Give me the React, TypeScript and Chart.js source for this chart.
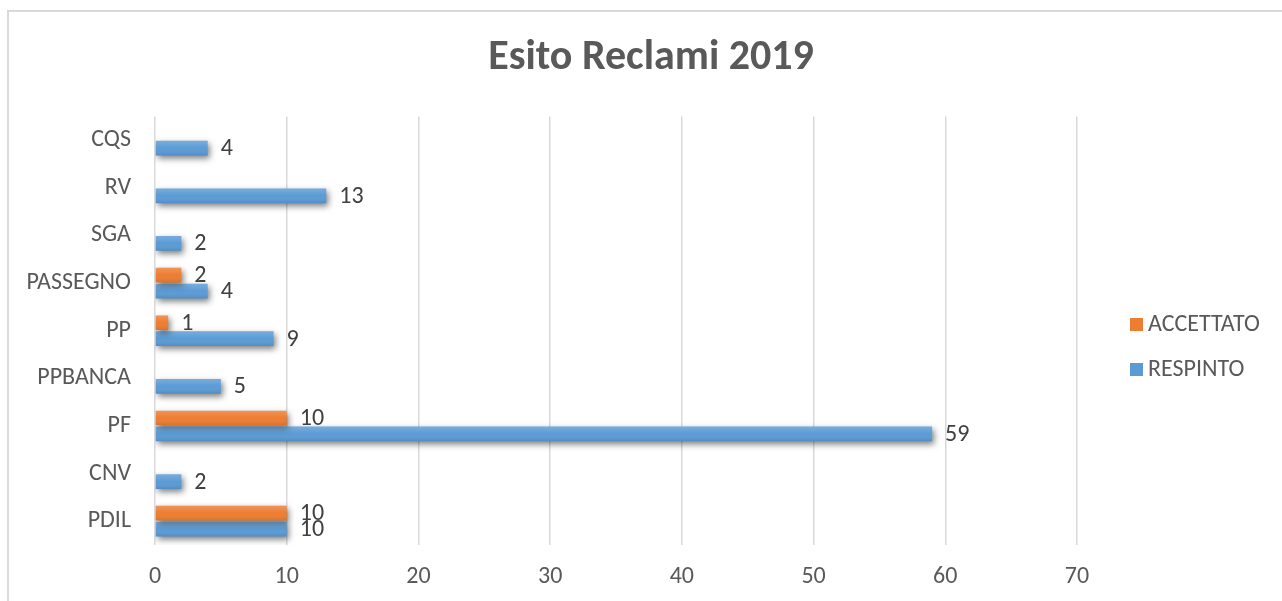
import React, { useEffect, useRef } from 'react';
import { Chart, registerables } from 'chart.js';

Chart.register(...registerables);

const FONT = "Carlito, Lato, 'Open Sans', sans-serif";

const categories = ['CQS', 'RV', 'SGA', 'PASSEGNO', 'PP', 'PPBANCA', 'PF', 'CNV', 'PDIL'];
const seriesNames = ['ACCETTATO', 'RESPINTO'];
const accettato: (number | null)[] = [null, null, null, 2, 1, null, 10, null, 10];
const respinto: (number | null)[] = [4, 13, 2, 4, 9, 5, 59, 2, 10];
const xMin = 0;
const xMax = 70;
const xStep = 10;
const titleText = 'Esito Reclami 2019';

const ORANGE = '#ED7D31';
const BLUE = '#5B9BD5';
const FS = 24;

const barDecor = {
  id: 'barDecor',
  beforeDatasetsDraw(chart: any) {
    const ctx = chart.ctx;
    ctx.save();
    ctx.shadowColor = 'rgba(0,0,0,0.5)';
    ctx.shadowBlur = 6;
    ctx.shadowOffsetX = 2;
    ctx.shadowOffsetY = 3;
  },
  afterDatasetsDraw(chart: any) {
    const ctx = chart.ctx;
    ctx.restore();
    chart.data.datasets.forEach((ds: any, di: number) => {
      const meta = chart.getDatasetMeta(di);
      meta.data.forEach((el: any, i: number) => {
        const v = ds.data[i];
        if (v === null || v === undefined) return;
        const props = el.getProps(['x', 'y', 'base', 'height'], true);
        const top = props.y - props.height / 2;
        const g = ctx.createLinearGradient(0, top, 0, top + props.height);
        g.addColorStop(0, 'rgba(255,255,255,0.18)');
        g.addColorStop(0.5, 'rgba(255,255,255,0)');
        g.addColorStop(1, 'rgba(0,0,0,0.10)');
        ctx.fillStyle = g;
        ctx.fillRect(props.base, top, props.x - props.base, props.height);
        ctx.save();
        ctx.fillStyle = '#404040';
        ctx.font = `${FS}px ${FONT}`;
        ctx.textAlign = 'left';
        ctx.textBaseline = 'middle';
        ctx.fillText(String(v), props.x + 13, props.y + 1);
        ctx.restore();
      });
    });
  },
};

const customLegend = {
  id: 'customLegend',
  afterDraw(chart: any) {
    const ctx = chart.ctx;
    ctx.save();
    ctx.font = `${FS}px ${FONT}`;
    ctx.textAlign = 'left';
    ctx.textBaseline = 'middle';
    chart.data.datasets.forEach((ds: any, i: number) => {
      const cy = 324 + i * 45;
      ctx.fillStyle = ds.backgroundColor;
      ctx.fillRect(1130, cy - 6, 13, 13);
      ctx.fillStyle = '#595959';
      ctx.fillText(ds.label, 1148, cy + 1);
    });
    ctx.restore();
  },
};

export default function App() {
  const ref = useRef<HTMLCanvasElement>(null);
  useEffect(() => {
    const canvas = ref.current!;
    const chart = new Chart(canvas, {
      type: 'bar',
      data: {
        labels: categories,
        datasets: [
          { label: seriesNames[0], data: accettato, backgroundColor: ORANGE, categoryPercentage: 0.67, barPercentage: 0.92 },
          { label: seriesNames[1], data: respinto, backgroundColor: BLUE, categoryPercentage: 0.67, barPercentage: 0.92 },
        ],
      } as any,
      options: {
        indexAxis: 'y',
        responsive: false,
        animation: false,
        layout: { padding: 0 },
        plugins: {
          legend: { display: false },
          tooltip: { enabled: false },
          title: {
            display: true,
            text: titleText,
            color: '#595959',
            font: { size: 42, weight: 'bold', family: FONT, lineHeight: 1.2 },
            padding: { top: 33, bottom: 33 },
          },
        },
        scales: {
          x: {
            min: xMin,
            max: xMax,
            ticks: { stepSize: xStep, color: '#595959', font: { size: FS, family: FONT }, padding: 18 },
            grid: { color: '#d9d9d9', lineWidth: 1.5, drawTicks: false },
            border: { display: false },
            afterFit: (s: any) => { s.height = 56; },
          },
          y: {
            ticks: { color: '#595959', font: { size: FS, family: FONT }, padding: 24 },
            grid: { display: false, drawTicks: false },
            border: { display: false },
            afterFit: (s: any) => { s.width = 155; },
          },
          yRight: {
            type: 'category',
            position: 'right',
            ticks: { display: false },
            grid: { display: false, drawTicks: false },
            border: { display: false },
            afterFit: (s: any) => { s.width = 225; },
          },
        },
      } as any,
      plugins: [barDecor, customLegend],
    });
    return () => chart.destroy();
  }, []);

  return (
    <div style={{ position: 'fixed', left: 0, top: 0, width: 1282, height: 601, overflow: 'hidden', background: '#fff' }}>
      <div style={{ position: 'absolute', left: 7, top: 10, width: 1300, height: 700, border: '2px solid #d9d9d9', boxSizing: 'border-box' }} />
      <canvas ref={ref} width={1302} height={601} style={{ position: 'absolute', left: 0, top: 0, display: 'block' }} />
    </div>
  );
}
